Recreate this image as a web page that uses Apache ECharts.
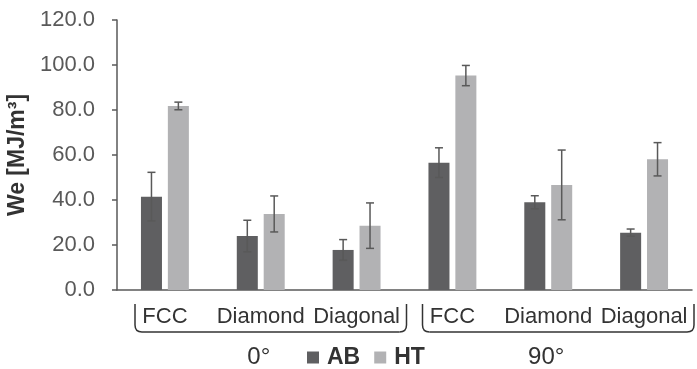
<!DOCTYPE html>
<html>
<head>
<meta charset="utf-8">
<script src="https://cdn.jsdelivr.net/npm/echarts@6/dist/echarts.min.js"></script>
<style>
  html, body { margin: 0; padding: 0; background: #fff; }
  #main { width: 697px; height: 369px; }
</style>
</head>
<body>
<div id="main"></div>
<script>
// data
const categories = ['FCC', 'Diamond', 'Diagonal', 'FCC', 'Diamond', 'Diagonal']
const groups = ['0°', '90°']
const abValues = [41.5, 24.0, 17.8, 56.6, 39.0, 25.5]
const abErr = [10.8, 7.0, 4.6, 6.6, 2.9, 1.6]
const htValues = [81.8, 33.8, 28.6, 95.3, 46.7, 58.1]
const htErr = [1.7, 8.0, 10.1, 4.5, 15.5, 7.4]
const yTicks = [0, 20, 40, 60, 80, 100, 120]

const AB_COLOR = '#5f5f61'
const HT_COLOR = '#b2b2b4'
const AXIS_COLOR = '#595959'
const FONT = 'Liberation Sans, Arial, sans-serif'

const CAT_GAP = 0.5
const BAR_GAP = 0.28

// error bars, placed on the same offsets as the bars
function errorSeries(name, values, errs, idx) {
  return {
    type: 'custom',
    name: name + '-err',
    silent: true,
    z: 5,
    data: values.map((v, i) => [i, v - errs[i], v + errs[i]]),
    renderItem: function (params, api) {
      const band = api.size([1, 0])[0]
      const w = band * (1 - CAT_GAP) / (2 + BAR_GAP)
      const off = -band * (1 - CAT_GAP) / 2 + w / 2 + idx * (w * (1 + BAR_GAP))
      const lo = api.coord([api.value(0), api.value(1)])
      const hi = api.coord([api.value(0), api.value(2)])
      const x = lo[0] + off
      const cap = 4
      const style = { stroke: AXIS_COLOR, lineWidth: 1.5 }
      return {
        type: 'group',
        children: [
          { type: 'line', shape: { x1: x, y1: lo[1], x2: x, y2: hi[1] }, style: style },
          { type: 'line', shape: { x1: x - cap, y1: lo[1], x2: x + cap, y2: lo[1] }, style: style },
          { type: 'line', shape: { x1: x - cap, y1: hi[1], x2: x + cap, y2: hi[1] }, style: style }
        ]
      }
    }
  }
}

const chart = echarts.init(document.getElementById('main'))
chart.setOption({
  animation: false,
  backgroundColor: '#fff',
  textStyle: { fontFamily: FONT },
  grid: { left: 117, right: 5, top: 20, bottom: 79, containLabel: false, outerBoundsMode: 'none' },
  legend: {
    data: ['AB', 'HT'],
    left: 302,
    top: 341,
    icon: 'rect',
    itemWidth: 12,
    itemHeight: 12,
    itemGap: 14,
    textStyle: { fontSize: 23, fontWeight: 'bold', color: '#333', fontFamily: FONT, padding: [0, 0, 0, 3] }
  },
  xAxis: {
    type: 'category',
    data: categories,
    axisLine: { lineStyle: { color: AXIS_COLOR, width: 1.5 } },
    axisTick: { show: false },
    axisLabel: { interval: 0, fontSize: 22, color: '#333', margin: 16, fontFamily: FONT }
  },
  yAxis: {
    type: 'value',
    min: yTicks[0],
    max: yTicks[yTicks.length - 1],
    interval: yTicks[1] - yTicks[0],
    name: 'We [MJ/m³]',
    nameLocation: 'middle',
    nameGap: 76,
    nameTextStyle: { fontSize: 23, fontWeight: 'bold', color: '#333', fontFamily: FONT },
    axisLine: { show: true, lineStyle: { color: AXIS_COLOR, width: 1.5 } },
    axisTick: { show: true, length: 5, lineStyle: { color: AXIS_COLOR, width: 1.5 } },
    splitLine: { show: false },
    axisLabel: {
      fontSize: 22,
      color: '#595959',
      margin: 22,
      fontFamily: FONT,
      formatter: v => v.toFixed(1)
    }
  },
  series: [
    {
      name: 'AB',
      type: 'bar',
      data: abValues,
      barCategoryGap: (CAT_GAP * 100) + '%',
      barGap: (BAR_GAP * 100) + '%',
      itemStyle: { color: AB_COLOR }
    },
    {
      name: 'HT',
      type: 'bar',
      data: htValues,
      itemStyle: { color: HT_COLOR }
    },
    errorSeries('AB', abValues, abErr, 0),
    errorSeries('HT', htValues, htErr, 1)
  ]
})

// brackets under each group of three categories + group labels
const band = chart.convertToPixel({ xAxisIndex: 0 }, 1) - chart.convertToPixel({ xAxisIndex: 0 }, 0)
const graphics = []
const bracketStyle = { fill: null, stroke: '#333', lineWidth: 1.5 }
groups.forEach((g, gi) => {
  const first = chart.convertToPixel({ xAxisIndex: 0 }, gi * 3)
  const mid = chart.convertToPixel({ xAxisIndex: 0 }, gi * 3 + 1)
  const last = chart.convertToPixel({ xAxisIndex: 0 }, gi * 3 + 2)
  const x1 = first - band / 2 + 18
  const x2 = last + band / 2 + 2
  const yTop = 304
  const yBot = 332
  const r = 7
  graphics.push(
    { type: 'line', shape: { x1: x1, y1: yTop, x2: x1, y2: yBot - r }, style: bracketStyle },
    { type: 'bezierCurve', shape: { x1: x1, y1: yBot - r, cpx1: x1, cpy1: yBot, x2: x1 + r, y2: yBot }, style: bracketStyle },
    { type: 'line', shape: { x1: x1 + r, y1: yBot, x2: x2 - r, y2: yBot }, style: bracketStyle },
    { type: 'bezierCurve', shape: { x1: x2 - r, y1: yBot, cpx1: x2, cpy1: yBot, x2: x2, y2: yBot - r }, style: bracketStyle },
    { type: 'line', shape: { x1: x2, y1: yBot - r, x2: x2, y2: yTop }, style: bracketStyle },
    {
      type: 'text',
      x: mid - 2,
      y: 357,
      style: {
        text: g,
        fontSize: 24,
        fill: '#333',
        fontFamily: FONT,
        align: 'center',
        verticalAlign: 'middle'
      }
    }
  )
})
chart.setOption({ graphic: graphics })
</script>
</body>
</html>
